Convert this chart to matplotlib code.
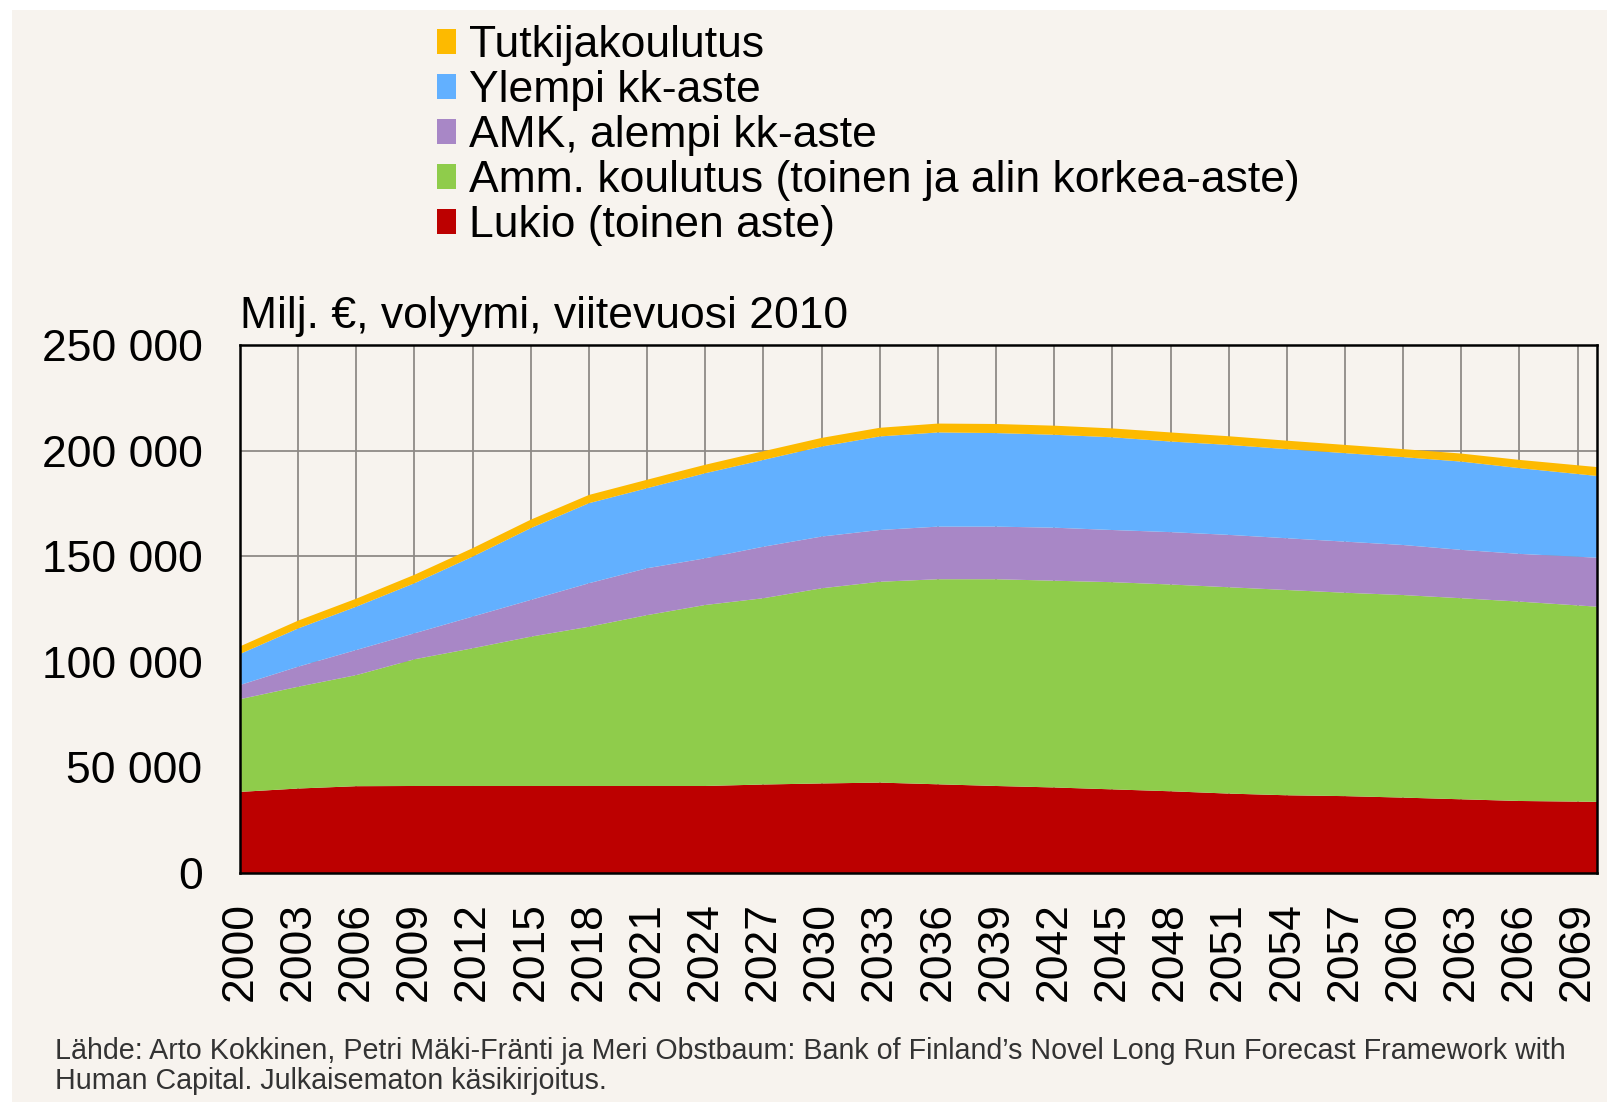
import matplotlib
matplotlib.use("Agg")
import matplotlib.pyplot as plt
from matplotlib.patches import Rectangle, Patch

plt.rcParams['font.family'] = ['Liberation Sans', 'DejaVu Sans']

years = [2000, 2003, 2006, 2009, 2012, 2015, 2018, 2021, 2024, 2027, 2030, 2033,
         2036, 2039, 2042, 2045, 2048, 2051, 2054, 2057, 2060, 2063, 2066, 2070]

lukio = [38400, 40000, 41100, 41200, 41200, 41200, 41200, 41200, 41200, 41900, 42400, 42800,
         42000, 41200, 40500, 39600, 38700, 37600, 36800, 36400, 35700, 34900, 34100, 33700]
amm = [43900, 48200, 52600, 60000, 65200, 70700, 75400, 80900, 85700, 88200, 92400, 95100,
       97100, 97900, 97900, 98100, 97900, 97700, 97200, 96300, 95900, 95200, 94400, 92400]
amk = [6700, 9500, 11900, 12300, 15000, 17400, 20600, 22200, 22100, 24400, 24500, 24500,
       24900, 24900, 25100, 24700, 24800, 24800, 24500, 24200, 23700, 22900, 22600, 23200]
ylempi = [14700, 18100, 20500, 23700, 28400, 34000, 37900, 37900, 40300, 41100, 42600, 44300,
          44600, 44300, 44000, 43900, 42900, 42600, 42200, 41900, 41600, 41800, 40600, 38700]
tutkija = [3600, 3700, 3800, 4000, 4000, 4000, 3900, 4000, 4000, 4100, 4100, 4100,
           4200, 4300, 4300, 4200, 4300, 4100, 4000, 3900, 3800, 3800, 3900, 4200]

series_labels = ["Lukio (toinen aste)",
                 "Amm. koulutus (toinen ja alin korkea-aste)",
                 "AMK, alempi kk-aste",
                 "Ylempi kk-aste",
                 "Tutkijakoulutus"]
colors = ["#BC0000", "#8FCC4B", "#A887C6", "#62B0FF", "#FDBA00"]

x_ticks = list(range(2000, 2070, 3))
y_ticks = [0, 50000, 100000, 150000, 200000, 250000]
y_ticklabels = ["0", "50 000", "100 000", "150 000", "200 000", "250 000"]

title_text = "Milj. €, volyymi, viitevuosi 2010"
source_text = ("Lähde: Arto Kokkinen, Petri Mäki-Fränti ja Meri Obstbaum: Bank of Finland’s "
               "Novel Long Run Forecast Framework with\nHuman Capital. Julkaisematon käsikirjoitus.")

W, H = 1607, 1102
bg = "#F7F3EE"
FS = 32
fig = plt.figure(figsize=(W / 100, H / 100), dpi=100, facecolor="white")
fig.patches.append(Rectangle((12 / W, 0), 1 - 12 / W, 1 - 10 / H, transform=fig.transFigure,
                             facecolor=bg, edgecolor="none", zorder=-10))

ax = fig.add_axes([240 / W, 1 - 873 / H, (1597 - 240) / W, (873 - 345) / H])
ax.set_facecolor(bg)
ax.stackplot(years, lukio, amm, amk, ylempi, tutkija, colors=colors,
             labels=series_labels, linewidth=0, zorder=3)
ax.set_xlim(2000, 2070)
ax.set_ylim(0, 250000)
ax.set_xticks(x_ticks)
ax.set_xticklabels([str(y) for y in x_ticks], rotation=90, fontsize=FS)
ax.set_yticks(y_ticks)
ax.set_yticklabels(y_ticklabels, fontsize=FS)
ax.tick_params(axis='both', length=0)
ax.tick_params(axis='y', pad=27)
ax.tick_params(axis='x', pad=21)
ax.grid(True, color="#8E8A86", linewidth=1.3, zorder=0)
ax.set_axisbelow(True)
for s in ax.spines.values():
    s.set_linewidth(1.8)
    s.set_color("black")
    s.set_zorder(5)

fig.text(240 / W, 1 - 328 / H, title_text, fontsize=FS, ha="left", va="baseline")

handles = [Patch(facecolor=c, edgecolor="none") for c in colors][::-1]
leg = fig.legend(handles, series_labels[::-1], loc="upper left",
                 bbox_to_anchor=(437 / W, 1 - 25 / H), frameon=False, fontsize=FS,
                 handlelength=0.43, handleheight=0.5, handletextpad=0.3,
                 labelspacing=0.09, borderpad=0, borderaxespad=0)

fig.text(55 / W, 1 - 1037 / H, source_text, fontsize=20.6, color="#333333",
         ha="left", va="top", linespacing=1.1)

fig.savefig("out.png", dpi=100, facecolor="white")
